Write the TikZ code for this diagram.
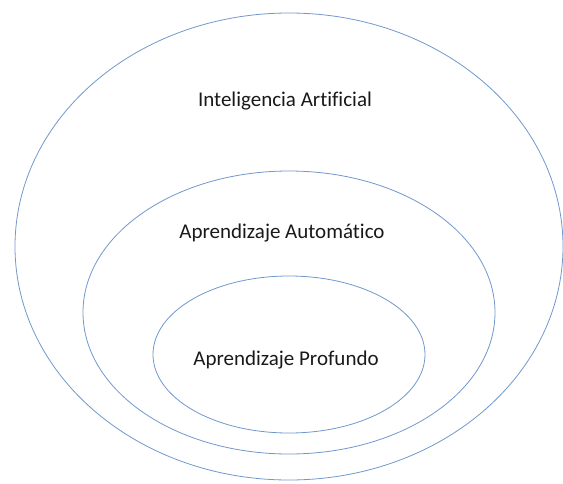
\documentclass[tikz,border=0pt]{standalone}
\usepackage{fontspec}
\setmainfont[Ligatures=NoCommon]{Carlito}
\usetikzlibrary{shapes.geometric,positioning}

\definecolor{ringblue}{RGB}{112,152,204}
\definecolor{labelgray}{RGB}{25,25,25}

\begin{document}
\begin{tikzpicture}[%
    x=1pt, y=-1pt,
    ring/.style={ellipse, draw=ringblue, line width=0.8pt, inner sep=0pt},
    lbl/.style={text=labelgray, font=\fontsize{21}{25}\selectfont, inner sep=0pt}
    ]

    \useasboundingbox (0,0) rectangle (563,483);

    \node[ring, minimum width=548pt, minimum height=467pt] (ai) at (289,246.5) {};
    \node[ring, minimum width=412pt, minimum height=283pt] (ml) at (289,312.5) {};
    \node[ring, minimum width=272pt, minimum height=157pt] (dl) at (289,354.5) {};

    \node[lbl] (ailbl) at (285,101) {Inteligencia Artificial};
    \node[lbl] (mllbl) at (282,233) {Aprendizaje Automático};
    \node[lbl] (dllbl) at (286,360) {Aprendizaje Profundo};

\end{tikzpicture}
\end{document}
